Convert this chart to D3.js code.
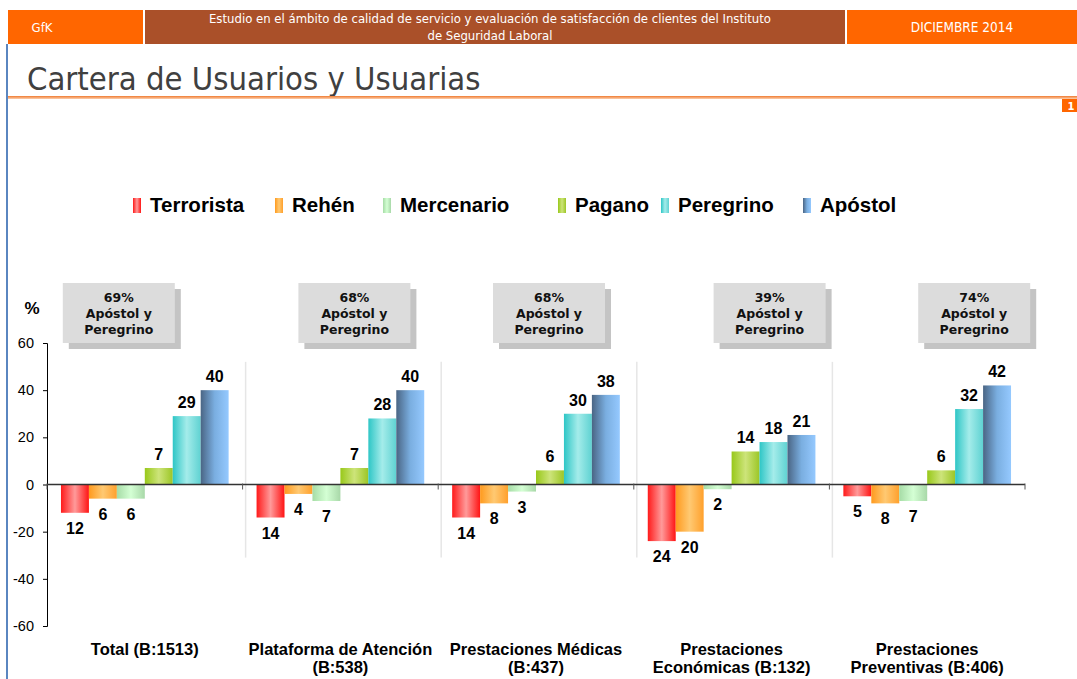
<!DOCTYPE html>
<html>
<head>
<meta charset="utf-8">
<script src="https://cdn.jsdelivr.net/npm/d3@7"></script>
<style>
  body { margin: 0; background: #fff; }
  svg { display: block; }
</style>
</head>
<body>
<div id="chart-area"></div>
<script>
// Data
var categories = [
  ["Total (B:1513)"],
  ["Plataforma de Atención", "(B:538)"],
  ["Prestaciones Médicas", "(B:437)"],
  ["Prestaciones", "Económicas (B:132)"],
  ["Prestaciones", "Preventivas (B:406)"]
];
var seriesNames = ["Terrorista", "Rehén", "Mercenario", "Pagano", "Peregrino", "Apóstol"];
var terrorista = [-12, -14, -14, -24, -5];
var rehen = [-6, -4, -8, -20, -8];
var mercenario = [-6, -7, -3, -2, -7];
var pagano = [7, 7, 6, 14, 6];
var peregrino = [29, 28, 30, 18, 32];
var apostol = [40, 40, 38, 21, 42];
var boxPct = ["69%", "68%", "68%", "39%", "74%"];
var yTicks = [-60, -40, -20, 0, 20, 40, 60];

var seriesValues = [terrorista, rehen, mercenario, pagano, peregrino, apostol];

// gradient stops per series (left, middle, right)
var gradients = [
  ["#ff1a1a", "#ff9a9a", "#ff1414"],
  ["#ff9a1e", "#ffc972", "#ffa02c"],
  ["#a6dca6", "#d4ffd4", "#a8d8a8"],
  ["#98c81a", "#cde47a", "#9cc626"],
  ["#2ec6c6", "#a4ecea", "#5fd2d2"],
  ["#4a6584", "#7aaee0", "#95c9ff"]
];

var W = 1077, H = 679;

var svg = d3.select("#chart-area")
  .append("svg")
  .attr("width", W)
  .attr("height", H);

var defs = svg.append("defs");

gradients.forEach(function(c, i) {
  var lg = defs.append("linearGradient")
    .attr("id", "grad" + i)
    .attr("x1", "0%").attr("x2", "100%")
    .attr("y1", "0%").attr("y2", "0%");
  lg.append("stop").attr("offset", "0%").attr("stop-color", c[0]);
  lg.append("stop").attr("offset", "50%").attr("stop-color", c[1]);
  lg.append("stop").attr("offset", "100%").attr("stop-color", c[2]);
});

var lineGrad = defs.append("linearGradient")
  .attr("id", "lineGrad")
  .attr("x1", "0%").attr("x2", "0%")
  .attr("y1", "0%").attr("y2", "100%");
lineGrad.append("stop").attr("offset", "0%").attr("stop-color", "#f07a30");
lineGrad.append("stop").attr("offset", "100%").attr("stop-color", "#fbd0b0");

// Header
svg.append("rect").attr("x", 8).attr("y", 10).attr("width", 135).attr("height", 34).attr("fill", "#ff6600");
svg.append("rect").attr("x", 145).attr("y", 10).attr("width", 700).attr("height", 34).attr("fill", "#aa5029");
svg.append("rect").attr("x", 847).attr("y", 10).attr("width", 230).attr("height", 34).attr("fill", "#ff6600");

var headFont = "'DejaVu Sans Condensed', 'DejaVu Sans', sans-serif";

svg.append("text")
  .attr("x", 42).attr("y", 32)
  .attr("text-anchor", "middle")
  .attr("font-family", headFont)
  .attr("font-size", "13px")
  .attr("fill", "#fff")
  .text("GfK");

svg.append("text")
  .attr("x", 490).attr("y", 23)
  .attr("text-anchor", "middle")
  .attr("font-family", headFont)
  .attr("font-size", "13px")
  .attr("fill", "#fff")
  .text("Estudio en el ámbito de calidad de servicio y evaluación de satisfacción de clientes del Instituto");

svg.append("text")
  .attr("x", 490).attr("y", 40)
  .attr("text-anchor", "middle")
  .attr("font-family", headFont)
  .attr("font-size", "13px")
  .attr("fill", "#fff")
  .text("de Seguridad Laboral");

svg.append("text")
  .attr("x", 962).attr("y", 32)
  .attr("text-anchor", "middle")
  .attr("font-family", headFont)
  .attr("font-size", "13.5px")
  .attr("fill", "#fff")
  .text("DICIEMBRE 2014");

// Left blue border
svg.append("rect").attr("x", 6).attr("y", 44).attr("width", 2).attr("height", H - 44).attr("fill", "#5a86c0");

// Title
svg.append("text")
  .attr("x", 27).attr("y", 90)
  .attr("font-family", headFont)
  .attr("font-size", "32.5px")
  .attr("fill", "#404040")
  .text("Cartera de Usuarios y Usuarias");

svg.append("rect").attr("x", 8).attr("y", 96).attr("width", W - 8).attr("height", 3).attr("fill", "url(#lineGrad)");
svg.append("rect").attr("x", 1062).attr("y", 99).attr("width", 15).attr("height", 13).attr("fill", "#ff6600");
svg.append("text")
  .attr("x", 1071).attr("y", 110)
  .attr("text-anchor", "middle")
  .attr("font-family", "'DejaVu Sans', sans-serif")
  .attr("font-weight", "bold")
  .attr("font-size", "10px")
  .attr("fill", "#fff")
  .text("1");

// Legend
var legendX = [133, 275, 383, 558, 661, 803];
var legend = svg.append("g");
seriesNames.forEach(function(name, i) {
  legend.append("rect")
    .attr("x", legendX[i]).attr("y", 198)
    .attr("width", 8).attr("height", 15)
    .attr("fill", "url(#grad" + i + ")");
  legend.append("text")
    .attr("x", legendX[i] + 17).attr("y", 212)
    .attr("font-family", "'Liberation Sans', Arial, sans-serif")
    .attr("font-weight", "bold")
    .attr("font-size", "20.5px")
    .attr("fill", "#000")
    .text(name);
});

// Chart area
var x0 = 47, x1 = 1025;
var y = d3.scaleLinear().domain([-60, 60]).range([626, 343]);

var x = d3.scaleBand()
  .domain(d3.range(categories.length))
  .range([x0, x1]);

var xs = d3.scaleBand()
  .domain(d3.range(seriesNames.length))
  .range([0, x.bandwidth()])
  .paddingOuter(0.5)
  .paddingInner(0);

// group separators
svg.selectAll(".sep")
  .data(d3.range(1, categories.length))
  .enter()
  .append("line")
  .attr("x1", function(d) { return x(d) + 3; })
  .attr("x2", function(d) { return x(d) + 3; })
  .attr("y1", y(52))
  .attr("y2", y(-31))
  .attr("stroke", "#e6e6e6")
  .attr("stroke-width", 1.5);

// Y axis
var yAxis = d3.axisLeft(y)
  .tickValues(yTicks)
  .tickSize(4)
  .tickPadding(9)
  .tickFormat(function(d) { return String(d); });

var gy = svg.append("g")
  .attr("transform", "translate(" + x0 + ",0)")
  .call(yAxis);
gy.select(".domain").attr("stroke", "#000");
gy.selectAll(".tick line").attr("stroke", "#000");
gy.selectAll("text")
  .attr("font-family", "'Liberation Sans', Arial, sans-serif")
  .attr("font-size", "14.5px")
  .attr("fill", "#000");

svg.append("text")
  .attr("x", 32).attr("y", 314)
  .attr("text-anchor", "middle")
  .attr("font-family", "'Liberation Sans', Arial, sans-serif")
  .attr("font-weight", "bold")
  .attr("font-size", "17px")
  .text("%");

// Bars
var bars = [];
seriesValues.forEach(function(vals, s) {
  vals.forEach(function(v, c) {
    bars.push({ s: s, c: c, v: v });
  });
});

svg.append("g")
  .selectAll("rect")
  .data(bars)
  .enter()
  .append("rect")
  .attr("x", function(d) { return x(d.c) + xs(d.s); })
  .attr("y", function(d) { return y(Math.max(0, d.v)); })
  .attr("width", xs.bandwidth())
  .attr("height", function(d) { return Math.abs(y(d.v) - y(0)); })
  .attr("fill", function(d) { return "url(#grad" + d.s + ")"; });

// X axis line with ticks at group boundaries
svg.append("line")
  .attr("x1", x0).attr("x2", x1)
  .attr("y1", y(0)).attr("y2", y(0))
  .attr("stroke", "#333")
  .attr("stroke-width", 1.5);

svg.selectAll(".xtick")
  .data(d3.range(categories.length + 1))
  .enter()
  .append("line")
  .attr("x1", function(d) { return x0 + d * x.bandwidth(); })
  .attr("x2", function(d) { return x0 + d * x.bandwidth(); })
  .attr("y1", y(0) - 1)
  .attr("y2", y(0) + 5)
  .attr("stroke", "#555");

// Value labels
svg.append("g")
  .selectAll("text")
  .data(bars)
  .enter()
  .append("text")
  .attr("x", function(d) { return x(d.c) + xs(d.s) + xs.bandwidth() / 2; })
  .attr("y", function(d) { return d.v >= 0 ? y(d.v) - 8 : y(d.v) + 21; })
  .attr("text-anchor", "middle")
  .attr("font-family", "'Liberation Sans', Arial, sans-serif")
  .attr("font-weight", "bold")
  .attr("font-size", "16px")
  .attr("fill", "#000")
  .text(function(d) { return Math.abs(d.v); });

// Category labels
var catG = svg.append("g");
categories.forEach(function(lines, c) {
  lines.forEach(function(t, k) {
    catG.append("text")
      .attr("x", x(c) + x.bandwidth() / 2)
      .attr("y", 655 + k * 18)
      .attr("text-anchor", "middle")
      .attr("font-family", "'Liberation Sans Narrow', 'Arial Narrow', 'Liberation Sans', sans-serif")
      .attr("font-weight", "bold")
      .attr("font-size", "16.5px")
      .attr("fill", "#000")
      .text(t);
  });
});

// Annotation boxes
var boxDx = [-26, 14, 13, 38, 47];
var boxW = 112, boxH = 60;
boxPct.forEach(function(p, c) {
  var cx = x(c) + x.bandwidth() / 2 + boxDx[c];
  var g = svg.append("g").attr("transform", "translate(" + (cx - boxW / 2) + ",283)");
  g.append("rect")
    .attr("x", 6).attr("y", 6)
    .attr("width", boxW).attr("height", boxH)
    .attr("fill", "#c4c4c4");
  g.append("rect")
    .attr("width", boxW).attr("height", boxH)
    .attr("fill", "#dcdcdc");
  [p, "Apóstol y", "Peregrino"].forEach(function(t, k) {
    g.append("text")
      .attr("x", boxW / 2)
      .attr("y", 19 + k * 16)
      .attr("text-anchor", "middle")
      .attr("font-family", "'DejaVu Sans', Verdana, sans-serif")
      .attr("font-weight", "bold")
      .attr("font-size", "12.5px")
      .attr("fill", "#111")
      .text(t);
  });
});
</script>
</body>
</html>
